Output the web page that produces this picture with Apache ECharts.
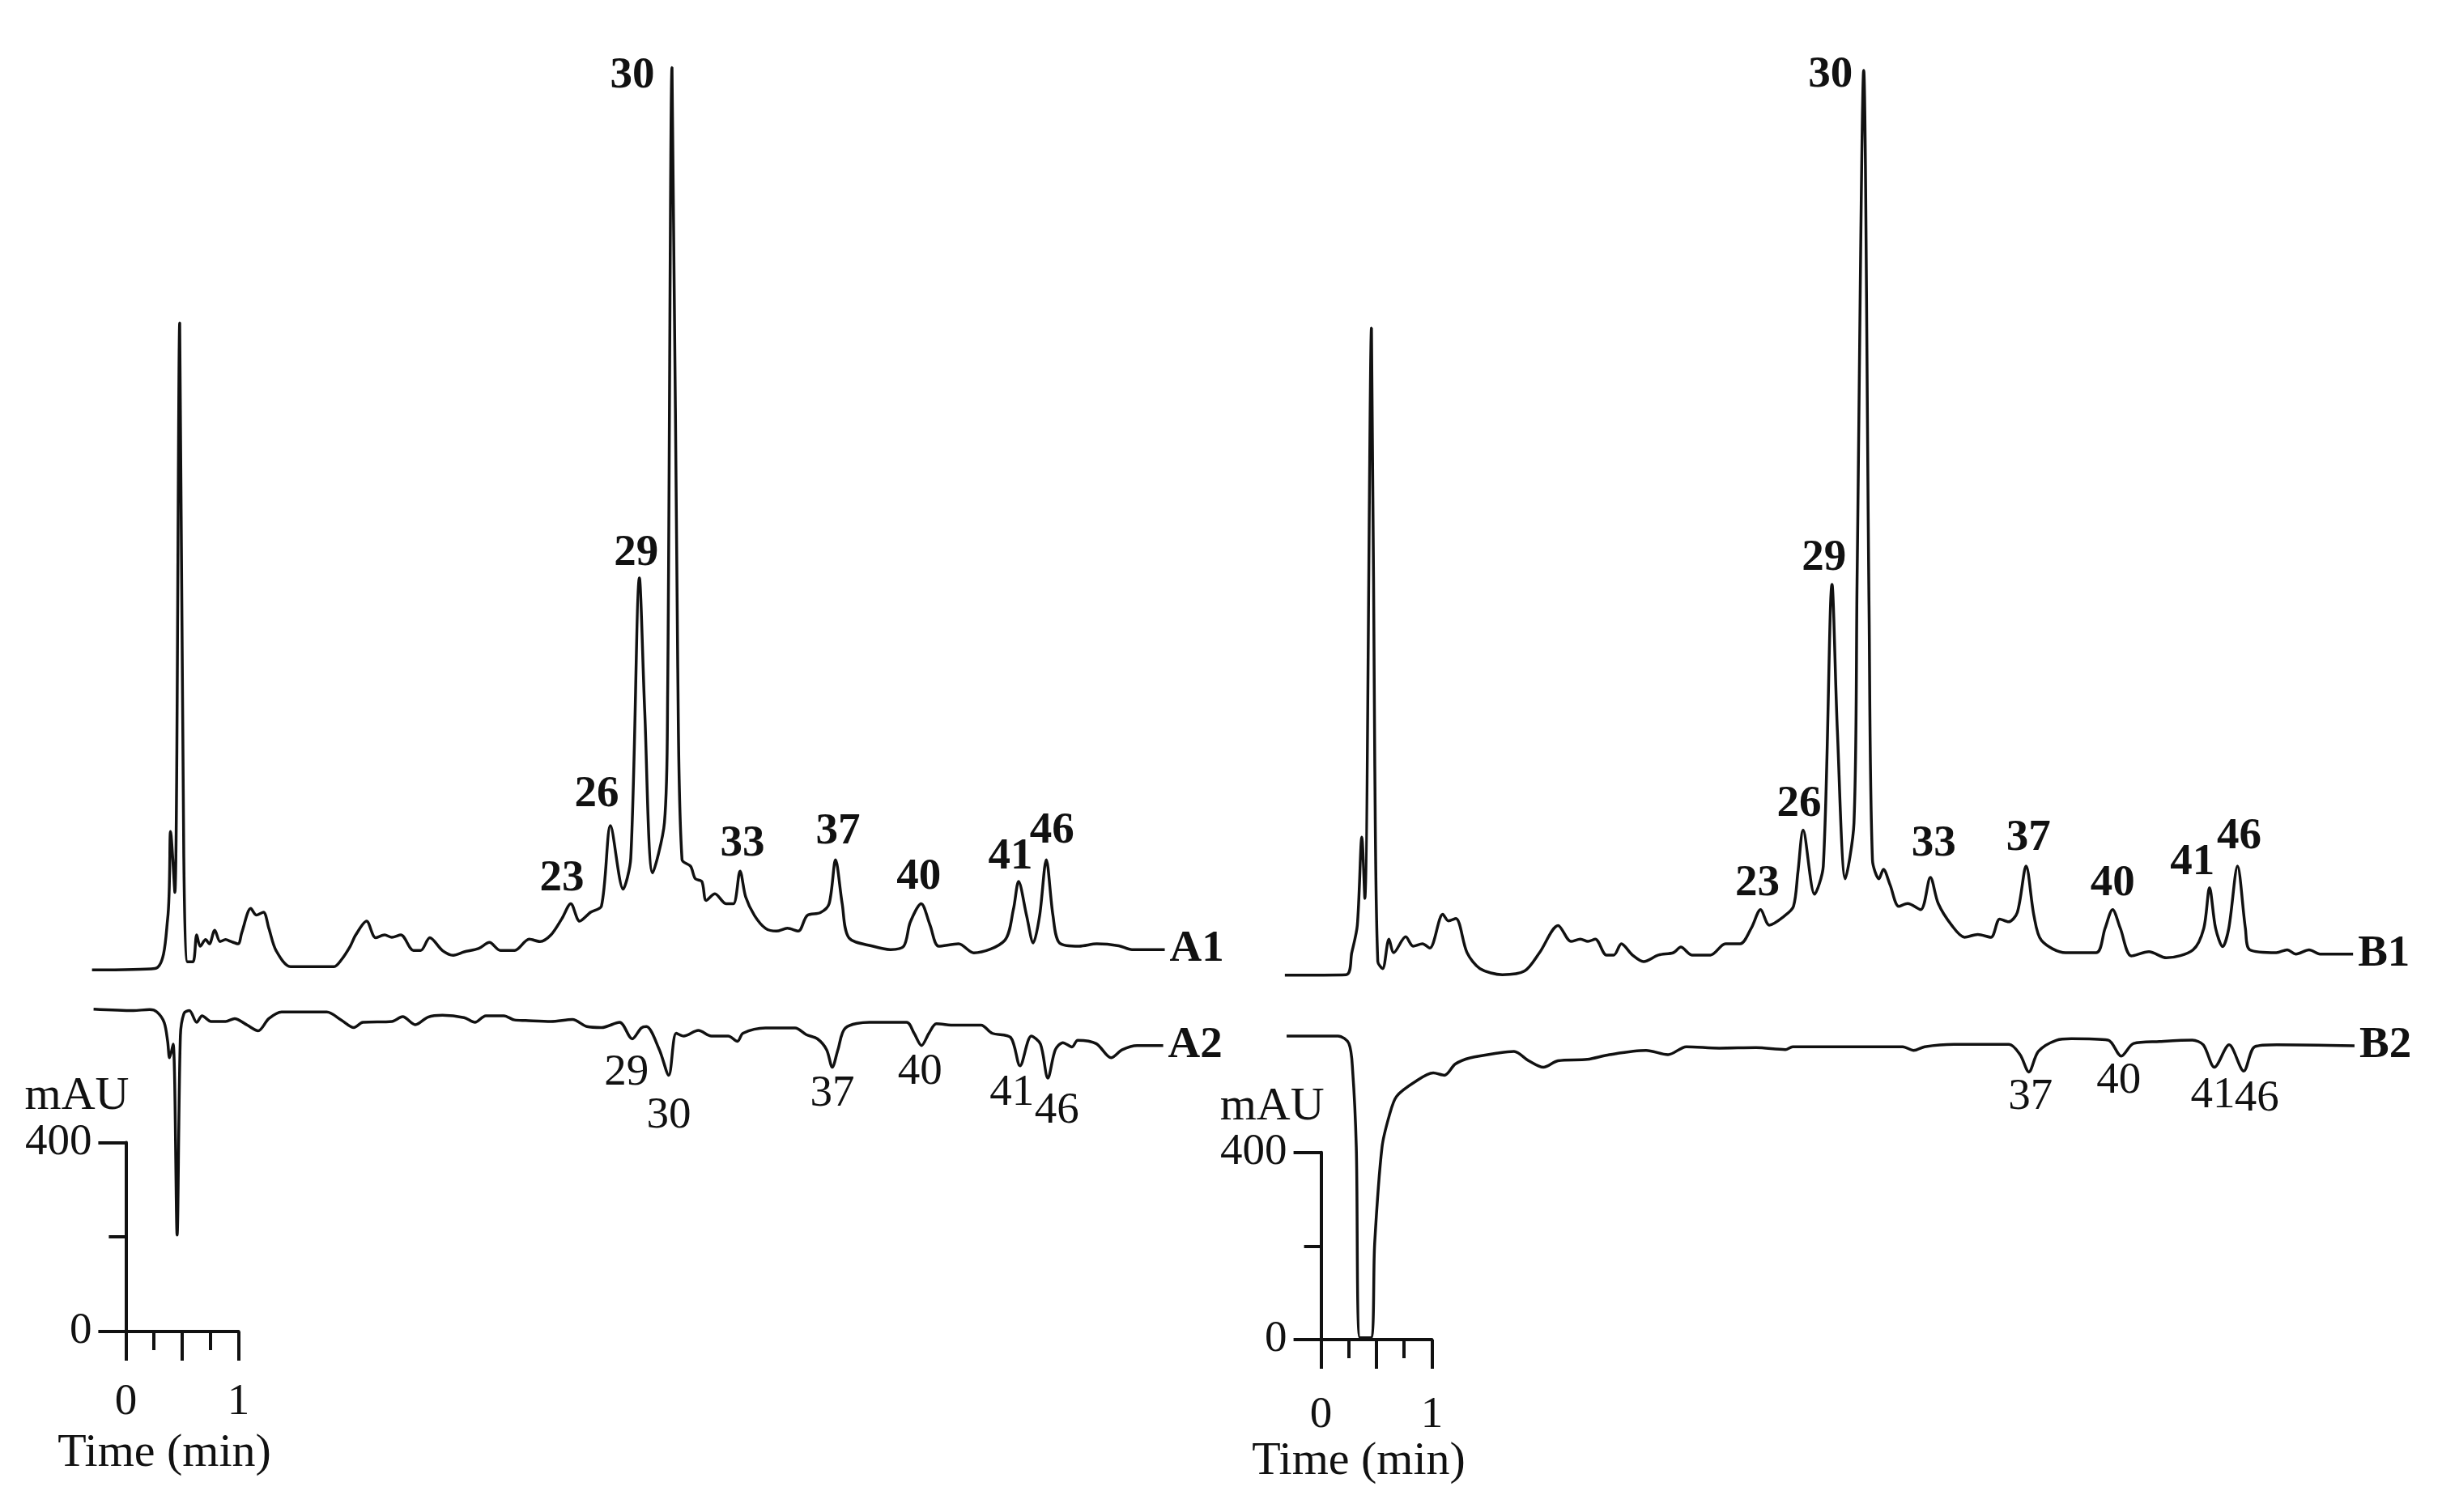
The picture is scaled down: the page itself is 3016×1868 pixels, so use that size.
<!DOCTYPE html>
<html>
<head>
<meta charset="utf-8">
<script src="https://cdn.jsdelivr.net/npm/echarts@6/dist/echarts.min.js"></script>
<style>
html,body{margin:0;padding:0;background:#fff;}
#chart{width:3016px;height:1868px;}
</style>
</head>
<body>
<div id="chart"></div>
<script>
// ---------- DATA (time in min, absorbance in mAU relative to each trace's own baseline) ----------
const A1 = [[-0.30,0],[0.259,3],[0.371,108],[0.397,293],[0.435,164],[0.478,1368],[0.514,245],[0.548,17],[0.596,17],[0.629,74],[0.660,50],[0.708,64],[0.741,55],[0.789,84],[0.837,60],[0.885,64],[0.933,60],[0.996,55],[1.029,79],[1.109,130],[1.157,116],[1.221,122],[1.269,88],[1.333,41],[1.462,7],[1.847,7],[1.911,21],[1.991,50],[2.040,74],[2.136,103],[2.216,68],[2.296,74],[2.360,69],[2.440,74],[2.552,41],[2.616,41],[2.697,68],[2.809,41],[2.905,31],[3.001,38],[3.129,45],[3.226,58],[3.323,41],[3.450,41],[3.579,65],[3.675,60],[3.772,74],[3.868,108],[3.948,140],[4.027,103],[4.124,122],[4.220,135],[4.300,305],[4.412,171],[4.480,236],[4.557,829],[4.604,547],[4.674,205],[4.779,312],[4.807,574],[4.846,1909],[4.897,639],[4.935,233],[5.011,219],[5.052,193],[5.111,187],[5.149,147],[5.227,161],[5.325,140],[5.391,140],[5.450,209],[5.500,154],[5.578,115],[5.675,88],[5.773,82],[5.870,88],[5.967,82],[6.045,115],[6.162,121],[6.240,140],[6.297,233],[6.356,140],[6.415,68],[6.629,50],[6.785,43],[6.902,50],[6.960,101],[7.057,140],[7.135,95],[7.213,50],[7.389,55],[7.524,36],[7.797,62],[7.875,128],[7.921,187],[7.992,115],[8.051,57],[8.108,115],[8.167,233],[8.226,115],[8.284,57],[8.459,50],[8.615,55],[8.810,51],[8.927,43],[9.218,43]];

const A2 = [[-0.286,0],[0.067,-3],[0.211,-1],[0.276,-6],[0.340,-28],[0.371,-68],[0.388,-103],[0.420,-74],[0.455,-478],[0.484,-57],[0.516,-9],[0.564,-3],[0.629,-28],[0.677,-14],[0.756,-26],[0.885,-26],[0.965,-20],[1.078,-34],[1.174,-46],[1.269,-20],[1.382,-6],[1.783,-6],[1.911,-23],[2.023,-39],[2.103,-28],[2.360,-26],[2.456,-16],[2.568,-33],[2.681,-17],[2.809,-13],[3.001,-18],[3.098,-28],[3.194,-14],[3.354,-14],[3.450,-23],[3.547,-24],[3.772,-26],[3.963,-22],[4.092,-37],[4.220,-39],[4.381,-28],[4.493,-63],[4.573,-40],[4.619,-37],[4.734,-86],[4.817,-140],[4.883,-51],[4.949,-57],[5.080,-45],[5.196,-57],[5.345,-57],[5.427,-68],[5.476,-51],[5.675,-40],[5.938,-40],[6.037,-54],[6.137,-63],[6.218,-86],[6.268,-123],[6.318,-86],[6.384,-40],[6.598,-28],[6.928,-28],[6.994,-51],[7.060,-77],[7.126,-51],[7.192,-31],[7.356,-34],[7.588,-34],[7.686,-51],[7.851,-60],[7.934,-120],[8.034,-57],[8.115,-74],[8.181,-146],[8.247,-86],[8.314,-71],[8.395,-80],[8.446,-66],[8.610,-73],[8.742,-103],[8.841,-86],[8.973,-77],[9.204,-77]];

const B1 = [[-0.327,0],[0.227,1],[0.277,48],[0.327,106],[0.368,295],[0.395,164],[0.455,1383],[0.485,446],[0.512,29],[0.556,14],[0.613,77],[0.656,48],[0.764,82],[0.831,62],[0.915,67],[0.982,58],[1.099,130],[1.150,116],[1.217,121],[1.318,48],[1.435,14],[1.637,1],[1.838,9],[1.972,48],[2.140,106],[2.257,72],[2.341,77],[2.409,72],[2.476,77],[2.576,43],[2.643,43],[2.711,67],[2.811,43],[2.912,29],[3.046,43],[3.181,48],[3.248,60],[3.348,43],[3.516,43],[3.651,67],[3.784,67],[3.885,101],[3.968,140],[4.047,107],[4.186,127],[4.265,147],[4.305,220],[4.352,310],[4.455,173],[4.534,233],[4.613,835],[4.661,524],[4.733,206],[4.811,325],[4.839,842],[4.899,1934],[4.947,789],[4.978,246],[5.037,206],[5.077,226],[5.137,193],[5.216,147],[5.295,153],[5.414,140],[5.501,209],[5.572,153],[5.692,107],[5.810,81],[5.929,87],[6.048,81],[6.127,120],[6.206,114],[6.286,134],[6.365,233],[6.436,127],[6.504,74],[6.721,48],[6.999,48],[7.078,100],[7.146,140],[7.216,100],[7.316,41],[7.474,50],[7.632,37],[7.871,54],[7.969,100],[8.021,187],[8.076,100],[8.140,61],[8.195,100],[8.274,233],[8.345,100],[8.385,54],[8.624,48],[8.722,54],[8.801,45],[8.920,54],[9.019,45],[9.317,45]];

const B2 = [[-0.311,0],[0.153,0],[0.251,-16],[0.285,-74],[0.318,-238],[0.351,-645],[0.450,-645],[0.484,-443],[0.550,-238],[0.616,-170],[0.682,-129],[0.848,-98],[1.013,-79],[1.113,-84],[1.212,-60],[1.344,-47],[1.609,-36],[1.742,-33],[1.874,-53],[2.007,-67],[2.139,-53],[2.404,-50],[2.602,-40],[2.934,-31],[3.132,-40],[3.298,-23],[3.596,-26],[3.927,-25],[4.192,-29],[4.258,-23],[5.251,-23],[5.350,-31],[5.450,-23],[5.714,-18],[6.211,-18],[6.311,-40],[6.390,-77],[6.476,-33],[6.641,-9],[6.773,-6],[7.105,-9],[7.224,-43],[7.336,-16],[7.569,-12],[7.866,-9],[7.965,-19],[8.065,-67],[8.198,-19],[8.330,-75],[8.430,-23],[8.628,-19],[9.330,-21]];

// peak labels: [label, retention time of the labelled apex]
const peaksA1 = [['23',3.948],['26',4.300],['29',4.557],['30',4.846],['33',5.450],['37',6.297],['40',7.057],['41',7.921],['46',8.167]];
const peaksA2 = [['29',4.493],['30',4.817],['37',6.268],['40',7.060],['41',7.934],['46',8.181]];
const peaksB1 = [['23',3.968],['26',4.352],['29',4.613],['30',4.899],['33',5.501],['37',6.365],['40',7.146],['41',8.021],['46',8.274]];
const peaksB2 = [['37',6.390],['40',7.224],['41',8.065],['46',8.330]];

// scale-bar tick labels
const scaleTimeTicks = [0, 1];
const scaleMauTicks = [0, 400];

// ---------- LAYOUT / STYLE ----------
const FONT = 'Liberation Serif';
const INK = '#111';
const FS = 55;
const FS_NAME = 58;
const X_RANGE = [-0.4, 9.7];
const Y_RANGE = [-60, 2800];

// per-label nudges [dx, dy] in px
const labelNudge = {
  A1: {'23':[-11,0],'26':[-17,-7],'29':[-4,1],'30':[-49,41],'33':[3,-2],'37':[3,-3],'40':[-3,-2],'41':[-10,1],'46':[7,-4]},
  B1: {'23':[-4,-1],'26':[-5,-1],'29':[-10,-1],'30':[-41,37],'33':[4,-10],'37':[3,-3],'40':[0,-1],'41':[-21,0],'46':[2,-5]},
  A2: {'29':[-7,9],'30':[0,17],'37':[0,0],'40':[-2,0],'41':[-10,1],'46':[11,8]},
  B2: {'37':[2,-2],'40':[-3,-2],'41':[-2,2],'46':[16,1]}
};

const PANELS = [
  {T0:155.4, pxMin:139.2, Y0:1645, pxMau:0.584, tickLabelMargin:60,
   traces:[{name:'A1', data:A1, peaks:peaksA1, off:765, up:true},
           {name:'A2', data:A2, peaks:peaksA2, off:682, up:false}]},
  {T0:1631.6, pxMin:136.8, Y0:1655, pxMau:0.578, tickLabelMargin:66,
   traces:[{name:'B1', data:B1, peaks:peaksB1, off:779, up:true},
           {name:'B2', data:B2, peaks:peaksB2, off:649, up:false}]}
];

const grids = [], xAxes = [], yAxes = [], series = [];
const txt = (extra) => Object.assign({fontFamily:FONT, fontSize:FS, color:INK}, extra || {});

function nearest(arr, t) {
  let best = arr[0];
  for (const p of arr) if (Math.abs(p[0]-t) < Math.abs(best[0]-t)) best = p;
  return best;
}

PANELS.forEach((P) => {
  const gMain = grids.length;
  grids.push({
    left: P.T0 + X_RANGE[0]*P.pxMin,
    width: (X_RANGE[1]-X_RANGE[0])*P.pxMin,
    top: P.Y0 - Y_RANGE[1]*P.pxMau,
    height: (Y_RANGE[1]-Y_RANGE[0])*P.pxMau,
    containLabel:false, outerBoundsMode:'none', show:false
  });
  const gScale = grids.length;
  grids.push({
    left: P.T0, width: P.pxMin,
    top: P.Y0 - 400*P.pxMau, height: 400*P.pxMau,
    containLabel:false, outerBoundsMode:'none', show:false
  });
  const xi = xAxes.length;
  xAxes.push({gridIndex:gMain, type:'value', min:X_RANGE[0], max:X_RANGE[1], show:false});
  xAxes.push({
    gridIndex:gScale, type:'value', min:0, max:1, interval:0.5,
    axisLine:{show:true, onZero:false, lineStyle:{color:INK, width:4}},
    axisTick:{show:true, inside:false, length:36, lineStyle:{color:INK, width:4}},
    minorTick:{show:true, splitNumber:2, length:23, lineStyle:{color:INK, width:4}},
    splitLine:{show:false}, minorSplitLine:{show:false},
    axisLabel:txt({margin:P.tickLabelMargin, formatter:(v)=> scaleTimeTicks.includes(v) ? String(v) : ''}),
    name:'Time (min)', nameLocation:'middle', nameGap:122,
    nameTextStyle:txt({fontSize:FS_NAME, padding:[0,44,0,0]})
  });
  const yi = yAxes.length;
  yAxes.push({gridIndex:gMain, type:'value', min:Y_RANGE[0], max:Y_RANGE[1], show:false});
  yAxes.push({
    gridIndex:gScale, type:'value', min:0, max:400, interval:400,
    axisLine:{show:true, onZero:false, lineStyle:{color:INK, width:4}},
    axisTick:{show:true, inside:false, length:34, lineStyle:{color:INK, width:4}},
    minorTick:{show:true, splitNumber:2, length:21, lineStyle:{color:INK, width:4}},
    splitLine:{show:false}, minorSplitLine:{show:false},
    axisLabel:txt({margin:42, formatter:(v)=> scaleMauTicks.includes(v) ? String(v) : ''}),
    name:'mAU', nameLocation:'end', nameGap:20,
    nameTextStyle:txt({fontSize:FS_NAME, align:'right', padding:[0,-4,0,0]})
  });

  P.traces.forEach((T) => {
    series.push({
      type:'line', name:T.name, xAxisIndex:xi, yAxisIndex:yi,
      data:T.data.map(p => [p[0], p[1] + T.off]),
      showSymbol:false, symbol:'none', clip:false, silent:true,
      smooth:0.3,
      lineStyle:{color:INK, width:3.5}, z:2,
      endLabel:txt({show:true, formatter:T.name, distance:6, fontWeight:'bold'})
    });
    const nudge = labelNudge[T.name];
    series.push({
      type:'scatter', xAxisIndex:xi, yAxisIndex:yi, silent:true, clip:false,
      symbolSize:1, itemStyle:{color:'rgba(0,0,0,0)', opacity:1}, z:3,
      data:T.peaks.map(([lab, t]) => {
        const pt = nearest(T.data, t);
        const nd = nudge[lab] || [0,0];
        return {
          value:[pt[0], pt[1] + T.off],
          label:txt({show:true, formatter:lab, position:T.up ? 'top' : 'bottom', opacity:1,
                     distance:T.up ? 3 : 5, offset:nd, fontWeight:T.up ? 'bold' : 'normal'})
        };
      })
    });
  });
});

const chart = echarts.init(document.getElementById('chart'), null, {renderer:'canvas'});
chart.setOption({
  backgroundColor:'#ffffff',
  animation:false,
  grid:grids, xAxis:xAxes, yAxis:yAxes, series:series
});
</script>
</body>
</html>
